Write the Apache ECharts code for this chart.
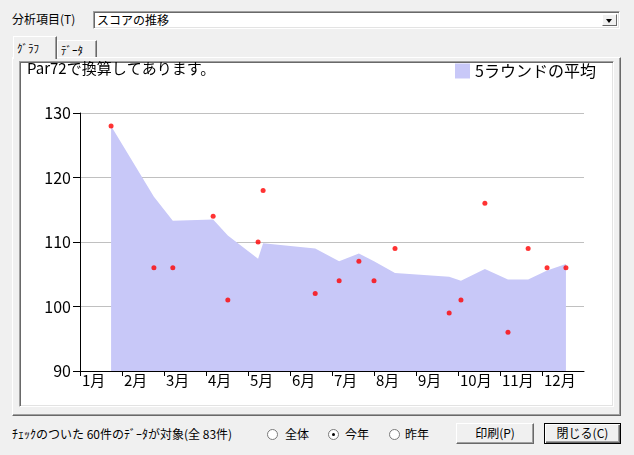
<!DOCTYPE html>
<html><head><meta charset="utf-8">
<script src="https://cdn.jsdelivr.net/npm/echarts@6.0.0/dist/echarts.min.js"></script>
<style>
html,body{margin:0;padding:0}
body{width:634px;height:455px;background:#f0f0f0;font-family:"Noto Sans CJK JP","Noto Sans",sans-serif;font-size:12px;color:#000;overflow:hidden;position:relative}
.a{position:absolute;white-space:nowrap}
.lbl{line-height:16px}
#combo{left:93px;top:11px;width:527px;height:18px;box-sizing:border-box;background:#fff;border:1px solid;border-color:#a0a0a0 #fff #fff #a0a0a0;box-shadow:inset 1px 1px #696969, inset -1px -1px #e3e3e3}
#combo span{position:absolute;left:3px;top:0;line-height:15px}
#drop{right:2px;top:2px;width:15px;height:12px;box-sizing:border-box;background:#f0f0f0;border:1px solid;border-color:#fff #696969 #696969 #fff}
#drop:after{content:"";position:absolute;left:3px;top:4px;border-left:3.5px solid transparent;border-right:3.5px solid transparent;border-top:4px solid #000}
.tab{box-sizing:border-box;background:#f0f0f0;border:1px solid;border-bottom:none;border-color:#fff #696969 #fff #fff;box-shadow:inset -1px 0 #a0a0a0}
.tab span{position:absolute;left:3px;top:1px;line-height:16px;font-size:11px}
#panel{left:12px;top:57px;width:609px;height:359px;box-sizing:border-box;border:1px solid;border-color:#fff #696969 #696969 #fff;box-shadow:inset -1px -1px #a0a0a0}
#white{left:19px;top:61px;width:595px;height:346px;box-sizing:border-box;background:#fff;border:1px solid;border-color:#a0a0a0 #fff #fff #a0a0a0;box-shadow:inset 1px 1px #696969, inset -1px -1px #e3e3e3}
.radio{width:11px;height:11px;box-sizing:border-box;border-radius:50%;background:#fff;border:1px solid #7a7a7a}
.radio.on:after{content:"";position:absolute;left:3px;top:3px;width:3px;height:3px;border-radius:50%;background:#000}
.btn{box-sizing:border-box;height:21px;background:#f0f0f0;border:1px solid;border-color:#fff #696969 #696969 #fff;box-shadow:inset -1px -1px #a0a0a0;text-align:center;line-height:18px}
#chart{position:absolute;left:0;top:0;width:634px;height:455px;z-index:5}
</style>
</head><body>
<div class="a lbl" style="left:12px;top:11px">分析項目(T)</div>
<div class="a" id="combo"><span>スコアの推移</span><div class="a" id="drop"></div></div>
<div class="a" id="panel"></div>
<div class="a tab" style="left:57px;top:40px;width:40px;height:17px"><span>ﾃﾞｰﾀ</span></div>
<div class="a tab" style="left:13px;top:36px;width:44px;height:23px;z-index:2"><span style="top:3px">ｸﾞﾗﾌ</span></div>
<div class="a" id="white"></div>
<div class="a lbl" style="left:12px;top:426px">ﾁｪｯｸのついた 60件のﾃﾞｰﾀが対象(全 83件)</div>
<div class="a radio" style="left:267px;top:429px"></div><div class="a lbl" style="left:285px;top:426px">全体</div>
<div class="a radio on" style="left:328px;top:429px"></div><div class="a lbl" style="left:345px;top:426px">今年</div>
<div class="a radio" style="left:389px;top:429px"></div><div class="a lbl" style="left:405px;top:426px">昨年</div>
<div class="a btn" style="left:456px;top:423px;width:78px">印刷(P)</div>
<div class="a btn" style="left:544px;top:423px;width:77px;border:1px solid #000;box-shadow:inset 1px 1px #fff, inset -1px -1px #696969, inset -2px -2px #a0a0a0">閉じる(C)</div>
<div id="chart"></div>
<script>
// ---- data ----
const monthLabels = ['1月','2月','3月','4月','5月','6月','7月','8月','9月','10月','11月','12月'];
const yTicks = [90, 100, 110, 120, 130];
// round positions on the year axis (in months from 1月1日)
const roundPos = [0.74, 1.76, 2.21, 3.17, 3.52, 4.24, 4.36, 5.60, 6.17, 6.64, 7.00, 7.50, 8.79, 9.07, 9.64, 10.19, 10.67, 11.12, 11.57];
const scores   = [128, 106, 106, 114, 101, 110, 118, 102, 104, 107, 104, 109, 99, 101, 116, 96, 109, 106, 106];
const avg5     = [128, 117, 113.3, 113.5, 111, 107.4, 109.8, 109, 107, 108.2, 107, 105.2, 104.6, 104, 105.8, 104.2, 104.2, 105.6, 106.6];
const noteText = 'Par72で換算してあります。';
const avgName = '5ラウンドの平均';

const monthTicks = monthLabels.map((m, i) => i);
const chart = echarts.init(document.getElementById('chart'), null, {renderer:'canvas'});
const font = '"Noto Sans CJK JP","Noto Sans",sans-serif';
chart.setOption({
  animation: false,
  backgroundColor: 'transparent',
  textStyle: {fontFamily: font},
  title: {text: noteText, left: 27, top: 61, padding: 0,
    textStyle: {fontSize: 15, fontWeight: 'normal', color: '#000', fontFamily: font}},
  legend: {data: [avgName], left: 455, top: 63, padding: 0, icon: 'rect', itemWidth: 15, itemHeight: 15,
    textStyle: {fontSize: 16, color: '#000', fontFamily: font}},
  grid: {left: 80, top: 113, width: 504, height: 258},
  xAxis: {type: 'value', min: 0, max: monthLabels.length, interval: 1,
    axisLine: {lineStyle: {color: '#000', width: 1}},
    axisTick: {show: true, length: 5, customValues: monthTicks, lineStyle: {color: '#000'}},
    axisLabel: {align: 'left', color: '#000', fontSize: 15, margin: 2, padding: [0,0,0,2],
      customValues: monthTicks, formatter: v => monthLabels[v] || ''},
    splitLine: {show: false}},
  yAxis: {type: 'value', min: yTicks[0], max: yTicks[yTicks.length-1], interval: yTicks[1]-yTicks[0],
    axisLine: {show: true, lineStyle: {color: '#000', width: 1}},
    axisTick: {show: true, length: 7, lineStyle: {color: '#000'}},
    axisLabel: {color: '#000', fontSize: 16, margin: 9},
    splitLine: {show: true, lineStyle: {color: '#c0c0c0', width: 1}}},
  series: [
    {name: avgName, type: 'line', data: roundPos.map((x,i) => [x, avg5[i]]),
      symbol: 'none', lineStyle: {width: 0}, itemStyle: {color: '#c8c8f8'},
      areaStyle: {color: '#c8c8f8', opacity: 1, origin: 'start'}, z: 1},
    {name: 'スコア', type: 'scatter', data: roundPos.map((x,i) => [x, scores[i]]),
      symbol: 'circle', symbolSize: 5, itemStyle: {color: '#ff0000'}, z: 3}
  ]
});
</script>
</body></html>
